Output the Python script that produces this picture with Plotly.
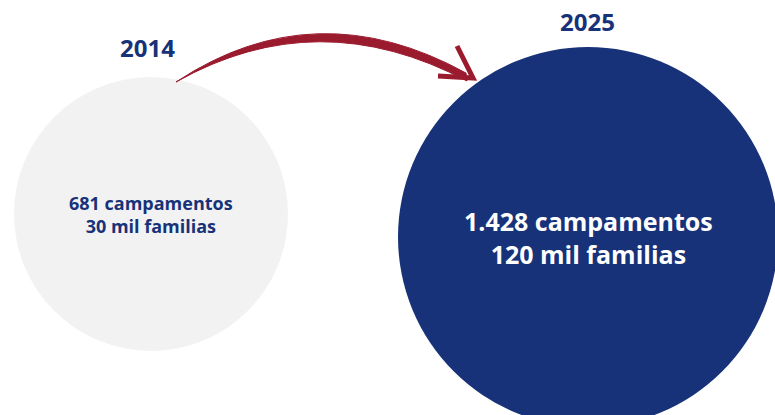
import plotly.graph_objects as go

# Data
years = ["2014", "2025"]
campamentos = [681, 1428]
familias_mil = [30, 120]

# Styles / layout constants
W, H = 775, 415
NAVY = "#173278"
GRAY = "#f2f2f2"
RED = "#9b1b2e"
FONT = "Open Sans"

circles = [  # (cx, cy, r, fill, text colour, text size)
    (151, 214, 137, GRAY, NAVY, 18),
    (588, 237, 190, NAVY, "white", 25),
]
year_pos = [(147, 47), (587, 21)]


def fmt(n):
    return f"{n:,}".replace(",", ".")


fig = go.Figure()
fig.add_trace(go.Scatter(x=[0, W], y=[0, H], mode="markers",
                         marker=dict(opacity=0), hoverinfo="skip", showlegend=False))

shapes = []
annotations = []
for i, (cx, cy, r, fill, tcol, tsize) in enumerate(circles):
    shapes.append(dict(type="circle", xref="x", yref="y",
                       x0=cx - r, x1=cx + r, y0=cy - r, y1=cy + r,
                       fillcolor=fill, line=dict(width=0), layer="below"))
    annotations.append(dict(
        x=cx, y=cy, xref="x", yref="y", showarrow=False,
        text=f"<b>{fmt(campamentos[i])} campamentos<br>"
             f"{familias_mil[i]} mil familias</b>",
        font=dict(family=FONT, size=tsize, color=tcol), align="center"))
    yx, yy = year_pos[i]
    annotations.append(dict(
        x=yx, y=yy, xref="x", yref="y", showarrow=False, borderpad=0,
        text=f"<b>{years[i]}</b>",
        font=dict(family=FONT, size=24, color=NAVY)))

# Curved brush-stroke arrow
shapes.append(dict(type="path", xref="x", yref="y",
                   path="M 176 82 Q 315 -10 466 73 L 467 81 Q 318 2 176 82 Z",
                   fillcolor=RED, line=dict(color=RED, width=1)))
shapes.append(dict(type="path", xref="x", yref="y",
                   path="M 457 46 L 473 78 L 438 76",
                   fillcolor="rgba(0,0,0,0)", line=dict(color=RED, width=5)))

fig.update_layout(
    width=W, height=H, margin=dict(l=0, r=0, t=0, b=0),
    paper_bgcolor="white", plot_bgcolor="white",
    xaxis=dict(range=[0, W], visible=False, fixedrange=True),
    yaxis=dict(range=[H, 0], visible=False, fixedrange=True),
    shapes=shapes, annotations=annotations, showlegend=False,
)
fig.write_html(
    "out.html",
    config={"displayModeBar": False},
    post_script="document.body.style.margin='0';document.body.style.overflow='hidden';",
)
